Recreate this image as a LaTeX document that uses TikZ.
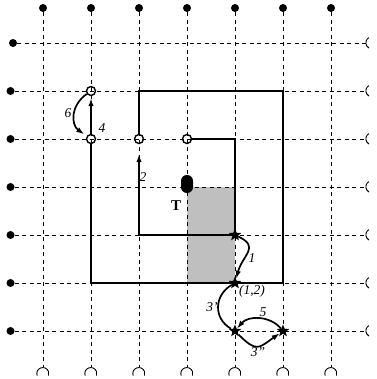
\documentclass[tikz,border=0pt]{standalone}
\usepackage{fontspec}
\setmainfont{Liberation Serif}
\usetikzlibrary{arrows.meta,shapes.geometric}

\begin{document}
\begin{tikzpicture}[x=48pt,y=48pt,
    dot/.style={circle,fill,inner sep=0pt,minimum size=8pt},
    hole/.style={circle,inner sep=0pt,minimum size=12pt},
    rim/.style={line width=.9pt},
    stone/.style={circle,draw,inner sep=0pt,minimum size=9pt,line width=1.4pt},
    pin/.style={star,star points=5,star point ratio=2.3,fill,inner sep=0pt,minimum size=13pt},
    gridline/.style={dash pattern=on 4pt off 3.5pt,line width=.8pt},
    wall/.style={line width=2pt},
    move/.style={line width=1.7pt,-{Latex[length=8pt,width=5.5pt]}},
    lbl/.style={font=\fontsize{13.5}{14}\selectfont\itshape,inner sep=0pt}]

  \clip (-0.896,0.896) rectangle (6.958,-7);
  \fill[black!25] (3,-3) rectangle (4,-5);

  % board
  \foreach \i in {0,...,6} {
    \node[dot] (t\i) at (\i,0.729) {};
    \node[hole] (b\i) at (\i,-6.885) {};
    \draw[rim] (b\i.200) arc[start angle=200,end angle=-20,radius=6pt];
    \draw[gridline] (t\i) -- (b\i);
  }
  \node[dot] (l0) at (-0.625,0) {};
  \foreach \j in {1,...,6}
    \node[dot] (l\j) at (-0.677,-\j) {};
  \foreach \j in {0,...,6} {
    \node[hole] (r\j) at (6.854,-\j) {};
    \draw[rim] (r\j.120) arc[start angle=120,end angle=240,radius=6pt];
    \draw[gridline] (l\j) -- (r\j);
  }

  % stones and pins
  \node[stone] (c11) at (1,-1) {};
  \node[stone] (c12) at (1,-2) {};
  \node[stone] (c22) at (2,-2) {};
  \node[stone] (c32) at (3,-2) {};
  \node[pin] (s44) at (4,-4) {};
  \node[pin] (s45) at (4,-5) {};
  \node[pin] (s46) at (4,-6) {};
  \node[pin] (s56) at (5,-6) {};
  \node[fill,rounded corners=5.9pt,inner sep=0pt,minimum width=12pt,minimum height=18pt]
    (tok) at (3,-2.9375) {};
  \node[font=\fontsize{15}{15}\selectfont\bfseries,inner sep=0pt] (tl) at (2.771,-3.396) {T};

  % walls
  \coordinate (w1) at (2,-1);
  \coordinate (w2) at (5,-1);
  \coordinate (w3) at (5,-5);
  \coordinate (w4) at (1,-5);
  \coordinate (v1) at (4,-2);
  \coordinate (v2) at (4,-4);
  \coordinate (v3) at (2,-4);
  \draw[wall] (c22) -- (w1) -- (w2) -- (w3) -- (w4) -- (c12);
  \draw[wall] (c32) -- (v1) -- (v2) -- (v3);

  % moves
  \draw[move,shorten >=10pt] (v3) -- (c22);
  \draw[move,shorten >=2pt] (c12) -- (c11);
  \draw[move,shorten >=3pt] (c11) to[bend right=55,looseness=1.2] (c12);
  \draw[move] (s44) to[out=-25,in=75,looseness=1.5] (s45);
  \draw[move] (s45) to[out=210,in=150,looseness=1.2] (s46)
    to[out=-45,in=215,looseness=1.6] (s56);
  \draw[move] (s56) to[bend right=50] (s46);

  \node[lbl] (m6) at (0.521,-1.458) {6};
  \node[lbl] (m4) at (1.229,-1.771) {4};
  \node[lbl] (m2) at (2.083,-2.792) {2};
  \node[lbl] (m1) at (4.354,-4.479) {1};
  \node[lbl] (p12) at (4.354,-5.167) {(1,2)};
  \node[lbl] (m3a) at (3.521,-5.5) {3'};
  \node[lbl] (m5) at (4.583,-5.597) {5};
  \node[lbl] (m3b) at (4.479,-6.438) {3''};
\end{tikzpicture}
\end{document}
